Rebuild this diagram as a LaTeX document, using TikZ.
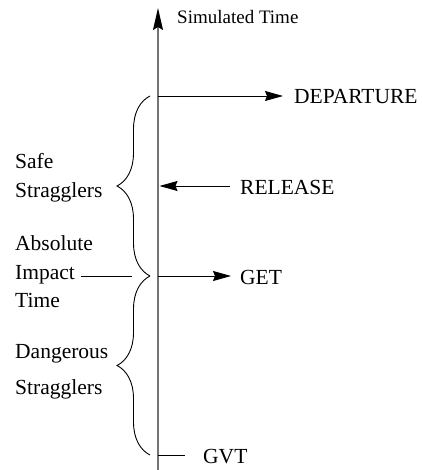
\documentclass[tikz,border=0pt]{standalone}
\usepackage{fontspec}
\setmainfont{Liberation Serif}
\usetikzlibrary{arrows.meta,decorations.pathreplacing}
\begin{document}
\begin{tikzpicture}[x=1pt,y=-1pt,
  lbl/.style={anchor=base west,inner sep=0pt,font=\fontsize{21.5}{25}\selectfont},
  arr/.style={-{Stealth[length=18pt,width=10pt,inset=2pt]},line width=0.9pt},
  plain/.style={line width=0.9pt},
  curly/.style={decorate,decoration={brace,amplitude=33pt},line width=0.9pt}]
\useasboundingbox (0,0) rectangle (422,470);
% axis
\coordinate (axbot) at (158,470);
\coordinate (axtop) at (158,8);
\draw[line width=1.3pt,black!55,-{Stealth[length=22pt,width=10pt,inset=3pt,color=black]}] (axbot) -- (axtop);
\node[lbl,font=\fontsize{19}{23}\selectfont] (simt) at (177,24) {Simulated Time};
% right labels
\node[lbl] (dep) at (294,104) {DEPARTURE};
\node[lbl] (rel) at (240,194) {RELEASE};
\node[lbl] (get) at (240,284) {GET};
\node[lbl] (gvt) at (203,463) {GVT};
\coordinate (adep) at (158,96);
\coordinate (arel) at (159.5,186);
\coordinate (aget) at (158,276);
\coordinate (agvt) at (158,455);
\draw[arr] (adep) -- ([xshift=-11pt]dep.west |- adep);
\draw[arr] ([xshift=-10pt]rel.west |- arel) -- (arel);
\draw[arr] (aget) -- ([xshift=-9pt]get.west |- aget);
\draw[plain] (agvt) -- ([xshift=-18pt]gvt.west |- agvt);
% braces
\coordinate (b1) at (150,96);
\coordinate (b2) at (150,276);
\coordinate (b3) at (150,455);
\draw[curly] (b2) -- (b1);
\draw[curly] (b3) -- (b2);
% left labels
\node[lbl] (safe) at (15,169) {Safe};
\node[lbl] (strag1) at (15,197) {Stragglers};
\node[lbl] (abs) at (15,250) {Absolute};
\node[lbl] (imp) at (15,279) {Impact};
\node[lbl] (time) at (15,307) {Time};
\node[lbl] (dang) at (15,358) {Dangerous};
\node[lbl] (strag2) at (15,394) {Stragglers};
\coordinate (impend) at (132,276);
\draw[plain] ([xshift=6pt]imp.east |- impend) -- (impend);
\end{tikzpicture}
\end{document}
